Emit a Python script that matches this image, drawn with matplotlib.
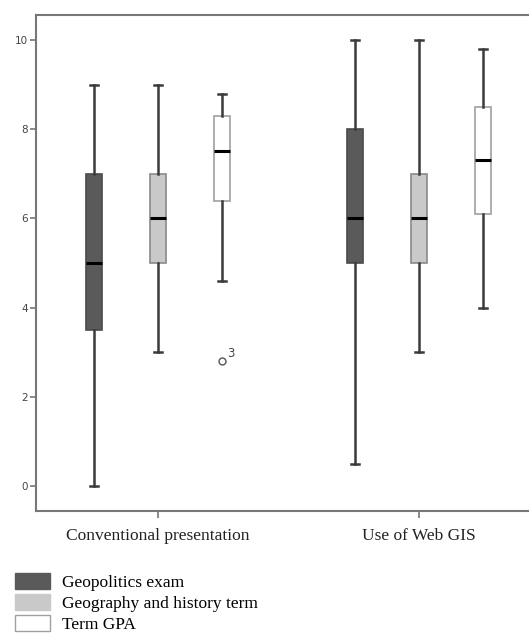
import matplotlib
matplotlib.use("Agg")
import matplotlib.pyplot as plt
from matplotlib.patches import Patch

categories = ["Conventional presentation", "Use of Web GIS"]
series = ["Geopolitics exam", "Geography and history term", "Term GPA"]
# per series, per category: (whislo, q1, med, q3, whishi)
whislo = [[0.0, 0.5], [3.0, 3.0], [4.6, 4.0]]
q1 = [[3.5, 5.0], [5.0, 5.0], [6.4, 6.1]]
med = [[5.0, 6.0], [6.0, 6.0], [7.5, 7.3]]
q3 = [[7.0, 8.0], [7.0, 7.0], [8.3, 8.5]]
whishi = [[9.0, 10.0], [9.0, 10.0], [8.8, 9.8]]
outliers = [[[], []], [[], []], [[2.8], []]]
outlier_labels = [[[], []], [[], []], [["3"], []]]
yticks = [0, 2, 4, 6, 8, 10]

face_colors = ["#5a5a5a", "#c9c9c9", "#ffffff"]
edge_colors = ["#4a4a4a", "#8a8a8a", "#a0a0a0"]
whisker_colors = ["#3a3a3a", "#3a3a3a", "#3a3a3a"]

fig = plt.figure(figsize=(5.29, 6.37), dpi=100)
ax = fig.add_axes([36/529, 1 - 511/637, 1 - 36/529 + 0.02, (511 - 15)/637])

offsets = [-0.245, 0.0, 0.245]
for s in range(3):
    stats = []
    for c in range(2):
        stats.append(dict(whislo=whislo[s][c], q1=q1[s][c], med=med[s][c],
                          q3=q3[s][c], whishi=whishi[s][c], fliers=outliers[s][c]))
    pos = [c + 1 + offsets[s] for c in range(2)]
    ax.bxp(stats, positions=pos, widths=0.062, patch_artist=True, showfliers=True,
           boxprops=dict(facecolor=face_colors[s], edgecolor=edge_colors[s], linewidth=1.2),
           medianprops=dict(color="black", linewidth=2.2),
           whiskerprops=dict(color=whisker_colors[s], linewidth=1.8),
           capprops=dict(color=whisker_colors[s], linewidth=1.8),
           capwidths=0.03,
           flierprops=dict(marker="o", markerfacecolor="white", markeredgecolor="#555555",
                           markersize=5, markeredgewidth=1.0))
    for c in range(2):
        for v, lab in zip(outliers[s][c], outlier_labels[s][c]):
            ax.annotate(lab, (c + 1 + offsets[s], v), xytext=(4, 3), textcoords="offset points",
                        fontsize=8.5, color="#444444", family="DejaVu Sans")

ax.set_xlim(0.533, 2.46)
ax.set_ylim(-0.56, 10.56)
ax.set_yticks(yticks)
ax.set_yticklabels([str(t) for t in yticks], fontsize=7.5, color="#444444")
ax.set_xticks([1, 2])
ax.set_xticklabels(categories, fontsize=12.5, family="Liberation Serif", color="#222222")
ax.tick_params(axis="x", length=5, width=1.2, color="#777777", pad=7)
ax.tick_params(axis="y", length=4, width=1.2, color="#777777", pad=2)
for side in ["left", "top", "bottom"]:
    ax.spines[side].set_color("#777777")
    ax.spines[side].set_linewidth(1.5)
ax.spines["right"].set_visible(False)

handles = [Patch(facecolor=face_colors[i], edgecolor=edge_colors[i] if i == 2 else face_colors[i],
                 linewidth=1.0) for i in range(3)]
fig.legend(handles, series, loc="upper left", bbox_to_anchor=(15/529, 1 - 573/637),
           frameon=False, prop=dict(family="Liberation Serif", size=12.5),
           handlelength=2.0, handleheight=1.0, labelspacing=0.2, handletextpad=0.7,
           borderpad=0, borderaxespad=0)

fig.savefig("out.png", dpi=100)
